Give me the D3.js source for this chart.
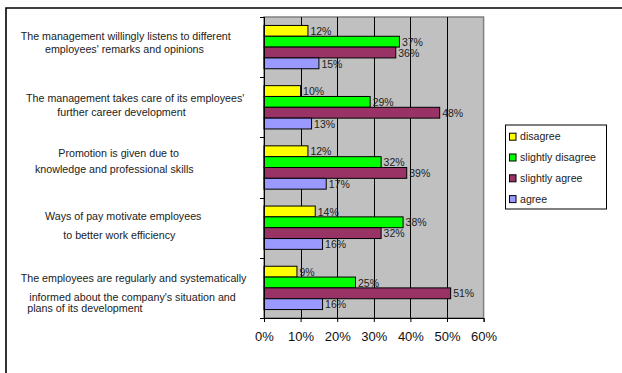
<!DOCTYPE html>
<html>
<head>
<meta charset="utf-8">
<script src="https://cdn.jsdelivr.net/npm/d3@7"></script>
<style>
  html, body { margin: 0; padding: 0; background: #fff; }
  svg { display: block; font-family: "Liberation Sans", Arial, sans-serif; }
</style>
</head>
<body>
<svg id="chart" width="622" height="373"></svg>
<script>
// Survey statements (each drawn on one or more lines)
const categories = [
  ["The management willingly listens to different", "employees' remarks and opinions"],
  ["The management takes care of its employees'", "further career development"],
  ["Promotion is given due to", "knowledge and professional skills"],
  ["Ways of pay motivate employees", "to better work efficiency"],
  ["The employees are regularly and systematically", "informed about the company's situation and", "plans of its development"]
];
const seriesNames = ["disagree", "slightly disagree", "slightly agree", "agree"];
const disagree         = [12, 10, 12, 14, 9];
const slightlyDisagree = [37, 29, 32, 38, 25];
const slightlyAgree    = [36, 48, 39, 32, 51];
const agree            = [15, 13, 17, 16, 16];
const xTicks = [0, 10, 20, 30, 40, 50, 60];

const seriesValues = [disagree, slightlyDisagree, slightlyAgree, agree];
const colors = ["#FFFF00", "#00FF00", "#993366", "#9999FF"];

// Per-line placement of the statement text: [x start, offset from band centre]
const labelLayout = [
  [[20.7, -10.4], [45, 2.4]],
  [[26, -8.6], [57.3, 4.7]],
  [[58.3, -14.2], [35, 1.8]],
  [[45, -11], [63.3, 7.6]],
  [[20.7, -9.2], [29.3, 9.4], [27.3, 20.4]]
];

const svg = d3.select("#chart");
const plot = { left: 264, right: 483.6, top: 17, bottom: 318 };

// Outer frame (only top and left edges fall inside the view)
svg.append("path")
  .attr("d", "M6,373 V8 H622")
  .attr("fill", "none").attr("stroke", "#000").attr("stroke-width", 1.6);

const x = d3.scaleLinear().domain([0, 60]).range([plot.left, plot.right]);
const y = d3.scaleBand().domain(d3.range(categories.length)).range([plot.top, plot.bottom]).padding(0);
const ys = d3.scaleBand().domain(d3.range(seriesNames.length)).range([0, y.bandwidth()])
  .paddingInner(0).paddingOuter(0.78);

// Plot background
svg.append("rect")
  .attr("x", plot.left).attr("y", plot.top)
  .attr("width", plot.right - plot.left).attr("height", plot.bottom - plot.top)
  .attr("fill", "#C0C0C0").attr("stroke", "#808080").attr("stroke-width", 1.5);

// Vertical gridlines
svg.append("g").selectAll("line")
  .data(xTicks.filter(t => t > 0 && t < 60))
  .join("line")
  .attr("x1", d => Math.round(x(d)) + 0.5).attr("x2", d => Math.round(x(d)) + 0.5)
  .attr("y1", plot.top).attr("y2", plot.bottom)
  .attr("stroke", "#000").attr("stroke-width", 1);

// Bars
const groups = svg.append("g").selectAll("g")
  .data(categories.map((c, i) => i))
  .join("g")
  .attr("transform", i => `translate(0,${y(i)})`);

groups.selectAll("rect")
  .data(i => seriesValues.map((vals, s) => ({ s, v: vals[i] })))
  .join("rect")
  .attr("x", x(0))
  .attr("y", d => ys(d.s))
  .attr("width", d => x(d.v) - x(0))
  .attr("height", ys.bandwidth())
  .attr("fill", d => colors[d.s])
  .attr("stroke", "#000").attr("stroke-width", 1);

groups.selectAll("text")
  .data(i => seriesValues.map((vals, s) => ({ s, v: vals[i] })))
  .join("text")
  .attr("x", d => x(d.v) + 2.5)
  .attr("y", d => ys(d.s) + ys.bandwidth() / 2 + 0.5)
  .attr("dy", "0.35em")
  .attr("font-size", "10.5px")
  .attr("fill", "#222")
  .text(d => d.v + "%");

// Axes
const xAxis = d3.axisBottom(x).tickValues(xTicks).tickFormat(d => d + "%").tickSize(4).tickPadding(10);
const gx = svg.append("g").attr("transform", `translate(0,${plot.bottom})`).call(xAxis);
gx.select(".domain").attr("stroke", "#000");
gx.selectAll(".tick line").attr("stroke", "#000");
gx.selectAll(".tick text").attr("font-size", "13px").attr("fill", "#111")
  .attr("font-family", "Liberation Sans, Arial, sans-serif");

// Category boundary ticks on the left axis
const bounds = d3.range(categories.length + 1).map(i => plot.top + i * y.step());
svg.append("g").selectAll("line").data(bounds).join("line")
  .attr("x1", plot.left - 4).attr("x2", plot.left)
  .attr("y1", d => Math.round(d) + 0.5).attr("y2", d => Math.round(d) + 0.5)
  .attr("stroke", "#000");
svg.append("line")
  .attr("x1", plot.left + 0.5).attr("x2", plot.left + 0.5)
  .attr("y1", plot.top).attr("y2", plot.bottom)
  .attr("stroke", "#000");

// Statement labels
categories.forEach((lines, i) => {
  const cy = y(i) + y.bandwidth() / 2;
  lines.forEach((line, j) => {
    svg.append("text")
      .attr("x", labelLayout[i][j][0])
      .attr("y", cy + labelLayout[i][j][1])
      .attr("dy", "0.35em")
      .attr("font-size", "10.7px")
      .attr("fill", "#222")
      .text(line);
  });
});

// Legend
const legend = svg.append("g").attr("transform", "translate(505.5,125)");
legend.append("rect").attr("width", 101).attr("height", 84)
  .attr("fill", "#fff").attr("stroke", "#000").attr("stroke-width", 1);
const items = legend.selectAll("g.item").data(seriesNames).join("g")
  .attr("class", "item")
  .attr("transform", (d, i) => `translate(4,${11.7 + i * 20.8})`);
items.append("rect")
  .attr("x", 0).attr("y", -3.5).attr("width", 6.5).attr("height", 7)
  .attr("fill", (d, i) => colors[i]).attr("stroke", "#000").attr("stroke-width", 1);
items.append("text")
  .attr("x", 10.5).attr("y", 0).attr("dy", "0.35em")
  .attr("font-size", "10.6px").attr("fill", "#222")
  .text(d => d);
</script>
</body>
</html>
